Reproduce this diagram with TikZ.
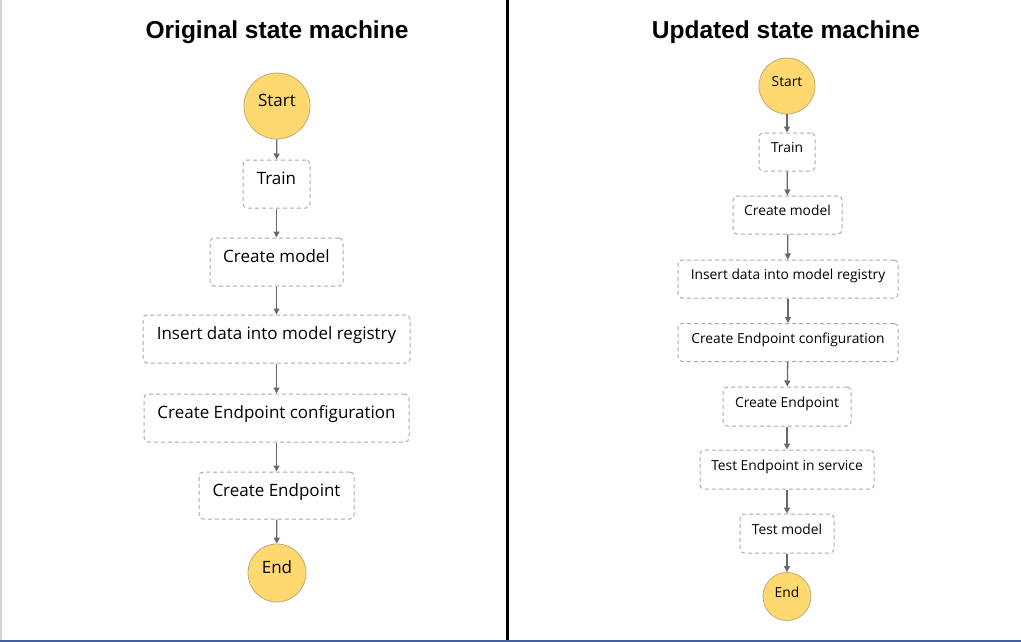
\documentclass[tikz,border=0pt]{standalone}
\usepackage{fontspec}
\setmainfont{Open Sans}
\newfontfamily\titlefont{Liberation Sans}
\usetikzlibrary{arrows.meta}

\definecolor{termfill}{RGB}{255,217,112}
\definecolor{termline}{RGB}{190,170,120}
\definecolor{boxline}{RGB}{170,170,170}
\definecolor{flowline}{RGB}{105,105,105}
\definecolor{rimblue}{RGB}{65,95,160}

\begin{document}
\begin{tikzpicture}[x=1pt, y=-1pt, >={Triangle[length=6pt, width=6pt]},
    task/.style={draw=boxline, dash pattern=on 4pt off 3pt, line width=1pt, rounded corners=4pt, inner sep=0pt},
    term/.style={circle, draw=termline, fill=termfill, line width=0.8pt, inner sep=0pt},
    flow/.style={->, draw=flowline, line width=1.3pt},
    heading/.style={font=\titlefont\bfseries\fontsize{24.5}{28}\selectfont}]
        \useasboundingbox (0, 0) rectangle (1021, 642);
        \draw [line width=1.5pt, gray!35] (0.75, 0) -- (0.75, 642);
        \draw [line width=2pt, rimblue] (0, 641) -- (1021, 641);
        \draw [line width=3pt] (507.5, 0) -- (507.5, 640);

        \node [heading] (ltitle) at (277, 32) {Original state machine};
        \node [heading] (rtitle) at (786, 32) {Updated state machine};

        % original
        \begin{scope}[font=\fontsize{17}{20}\selectfont, text height=11pt, text depth=10pt]
        \node [term, minimum size=66pt] (lstart) at (277, 106) {Start};
        \node [task, minimum width=67pt, minimum height=48pt] (ltrain) at (276.5, 184) {Train};
        \node [task, minimum width=133pt, minimum height=48pt] (lmodel) at (276.5, 262) {Create model};
        \node [task, minimum width=267pt, minimum height=48pt] (linsert) at (276.5, 339) {Insert data into model registry};
        \node [task, minimum width=265pt, minimum height=48pt] (lconfig) at (276.5, 418) {Create Endpoint configuration};
        \node [task, minimum width=155pt, minimum height=47pt] (lendpt) at (276.5, 495.5) {Create Endpoint};
        \node [term, minimum size=58pt] (lend) at (277, 573) {End};
        \end{scope}

        % updated
        \begin{scope}[font=\fontsize{13.8}{16}\selectfont, text height=10pt, text depth=8.2pt]
        \node [term, minimum size=56pt] (rstart) at (787, 86) {Start};
        \node [task, minimum width=56pt, minimum height=38pt] (rtrain) at (787, 152) {Train};
        \node [task, minimum width=109pt, minimum height=38pt] (rmodel) at (787.5, 215) {Create model};
        \node [task, minimum width=220pt, minimum height=38pt] (rinsert) at (788, 279) {Insert data into model registry};
        \node [task, minimum width=220pt, minimum height=38pt] (rconfig) at (788, 342.5) {Create Endpoint configuration};
        \node [task, minimum width=128pt, minimum height=39pt] (rendpt) at (787, 406.5) {Create Endpoint};
        \node [task, minimum width=174pt, minimum height=39pt] (rtest) at (787, 469.5) {Test Endpoint in service};
        \node [task, minimum width=94pt, minimum height=39pt] (rtestm) at (787, 533.5) {Test model};
        \node [term, minimum size=48pt] (rend) at (787, 596.5) {End};
        \end{scope}

        \foreach \a/\b in {lstart/ltrain, ltrain/lmodel, lmodel/linsert, linsert/lconfig, lconfig/lendpt, lendpt/lend,
            rstart/rtrain, rtrain/rmodel, rmodel/rinsert, rinsert/rconfig, rconfig/rendpt, rendpt/rtest, rtest/rtestm, rtestm/rend}
        {
            \draw [flow] (\a) -- (\b);
        }
    \end{tikzpicture}
\end{document}
